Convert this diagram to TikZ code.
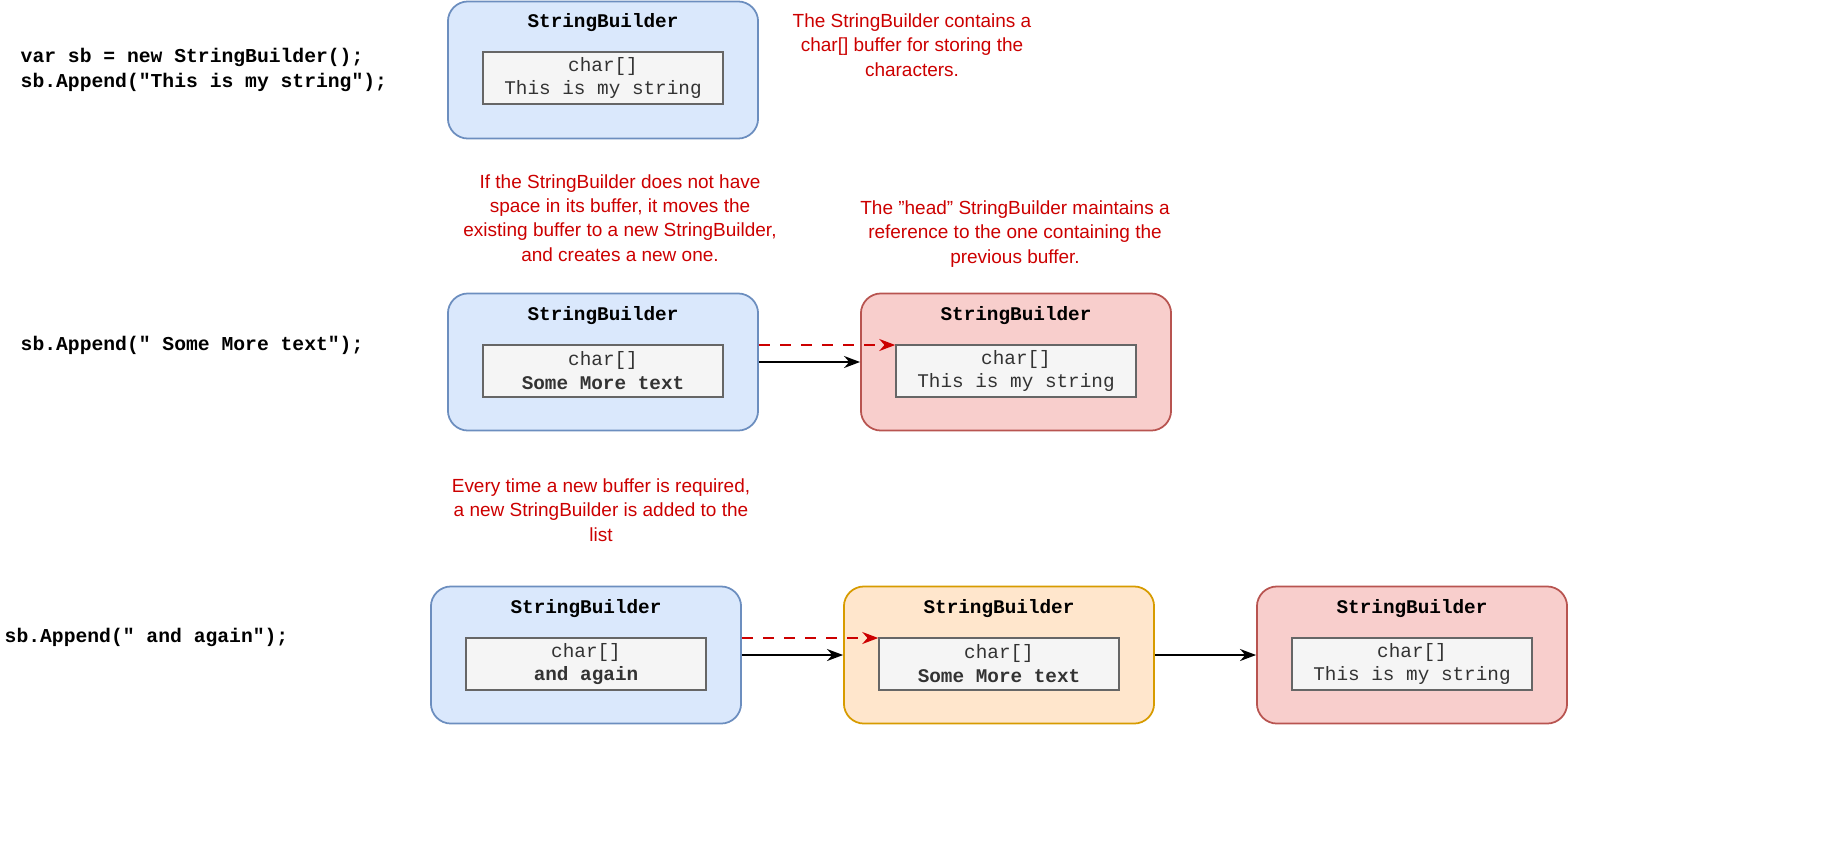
\documentclass[tikz,border=0pt]{standalone}
\usepackage{fontspec}
\setmainfont{Liberation Sans}
\setmonofont{Liberation Mono}
\usetikzlibrary{arrows.meta}
\definecolor{bluefill}{HTML}{DAE8FC}
\definecolor{bluedraw}{HTML}{6C8EBF}
\definecolor{redfill}{HTML}{F8CECC}
\definecolor{reddraw}{HTML}{B85450}
\definecolor{orangefill}{HTML}{FFE6CC}
\definecolor{orangedraw}{HTML}{D79B00}
\definecolor{buffill}{HTML}{F5F5F5}
\definecolor{bufdraw}{HTML}{666666}
\definecolor{buftext}{HTML}{333333}
\definecolor{notered}{HTML}{CC0000}

\begin{document}
\begin{tikzpicture}[
        x=0.01cm, y=-0.01cm,
        every node/.style={inner sep=0pt},
        sb/.style={rectangle, rounded corners=0.2cm, minimum width=3.1cm, minimum height=1.37cm, line width=0.5pt},
        blue sb/.style={sb, draw=bluedraw, fill=bluefill},
        red sb/.style={sb, draw=reddraw, fill=redfill},
        orange sb/.style={sb, draw=orangedraw, fill=orangefill},
        title/.style={font=\ttfamily\bfseries\fontsize{5.5}{6.5}\selectfont},
        buf/.style={rectangle, draw=bufdraw, fill=buffill, minimum width=2.4cm, minimum height=0.52cm, align=center, text=buftext, font=\ttfamily\fontsize{5.5}{6.8}\selectfont, line width=0.4pt},
        note/.style={align=center, text=notered, font=\fontsize{5.4}{6.9}\selectfont},
        code/.style={anchor=west, align=left, font=\ttfamily\bfseries\fontsize{5.6}{7.2}\selectfont},
        arrow/.style={line width=0.5pt, -{Stealth[length=0.16cm, width=0.12cm]}},
        ref/.style={arrow, draw=notered, dashed}
    ]
    \useasboundingbox (0,0) rectangle (1822,842);

    % Row 1
    \node (codeA) [code] at (20,70) {var sb = new StringBuilder();\\sb.Append("This is my string");};
    \node (sbA) [blue sb] at (603,70) {};
    \node [title] at (603,23) {StringBuilder};
    \node (bufA) [buf] at (603,78) {char[]\\This is my string};
    \node (noteA) [note] at (912,45) {The StringBuilder contains a\\char[] buffer for storing the\\characters.};

    % Row 2
    \node (noteB) [note] at (620,218) {If the StringBuilder does not have\\space in its buffer, it moves the\\existing buffer to a new StringBuilder,\\and creates a new one.};
    \node (noteC) [note] at (1015,234) {The {\char`\"}head{\char`\"} StringBuilder maintains a\\reference to the one containing the\\previous buffer.};
    \node (codeB) [code] at (20,345) {sb.Append(" Some More text");};
    \node (sbB) [blue sb] at (603,362) {};
    \node [title] at (603,316) {StringBuilder};
    \node (bufB) [buf] at (603,371) {char[]\\\textbf{Some More text}};
    \node (sbC) [red sb] at (1016,362) {};
    \node [title] at (1016,316) {StringBuilder};
    \node (bufC) [buf] at (1016,371) {char[]\\This is my string};

    \draw [arrow] (sbB) -- (sbC);
    \draw [ref] (sbB.east |- 0,345) -- (bufC.west |- 0,345);

    % Row 3
    \node (noteD) [note] at (601,510) {Every time a new buffer is required,\\a new StringBuilder is added to the\\list};
    \node (codeD) [code] at (4,637) {sb.Append(" and again");};
    \node (sbD) [blue sb] at (586,655) {};
    \node [title] at (586,609) {StringBuilder};
    \node (bufD) [buf] at (586,664) {char[]\\\textbf{and again}};
    \node (sbE) [orange sb] at (999,655) {};
    \node [title] at (999,609) {StringBuilder};
    \node (bufE) [buf] at (999,664) {char[]\\\textbf{Some More text}};
    \node (sbF) [red sb] at (1412,655) {};
    \node [title] at (1412,609) {StringBuilder};
    \node (bufF) [buf] at (1412,664) {char[]\\This is my string};

    \draw [arrow] (sbD) -- (sbE);
    \draw [arrow] (sbE) -- (sbF);
    \draw [ref] (sbD.east |- 0,638) -- (bufE.west |- 0,638);
\end{tikzpicture}
\end{document}
